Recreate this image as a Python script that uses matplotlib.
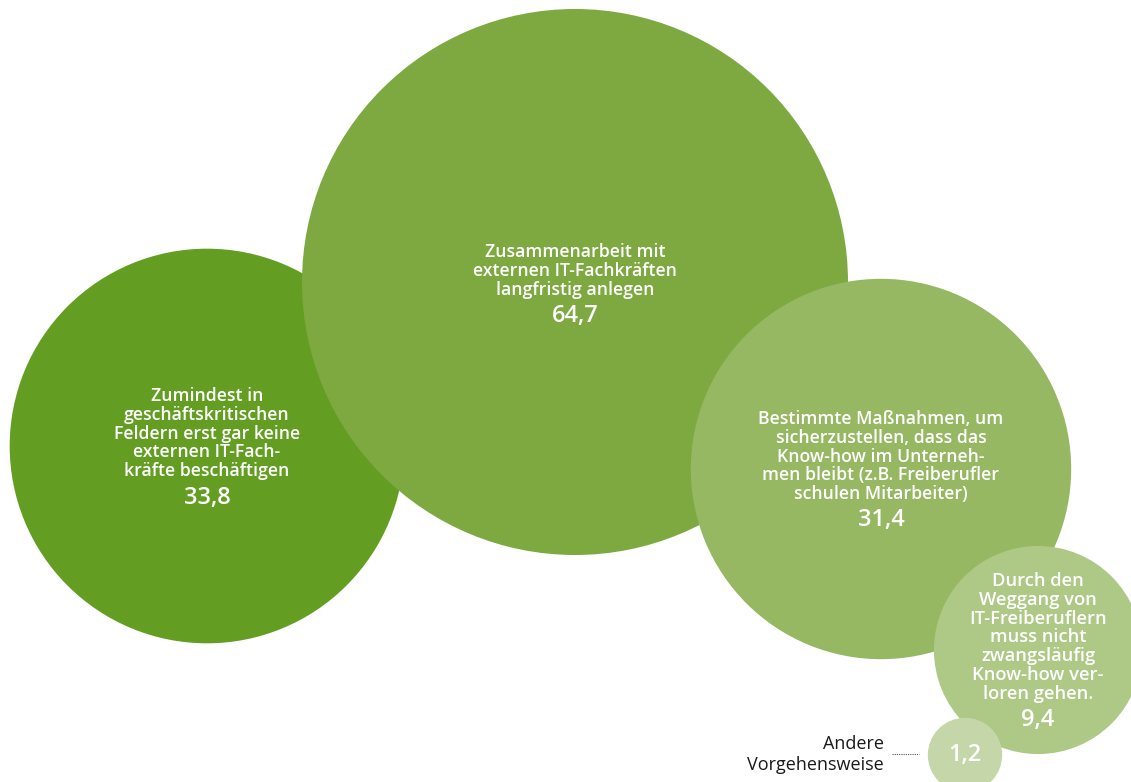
import numpy as np
import matplotlib.pyplot as plt
from matplotlib.patches import Circle

# DATA
labels = [
    'Zumindest in\ngeschäftskritischen\nFeldern erst gar keine\nexternen IT-Fach-\nkräfte beschäftigen',
    'Zusammenarbeit mit\nexternen IT-Fachkräften\nlangfristig anlegen',
    'Bestimmte Maßnahmen, um\nsicherzustellen, dass das\nKnow-how im Unterneh-\nmen bleibt (z.B. Freiberufler\nschulen Mitarbeiter)',
    'Durch den\nWeggang von\nIT-Freiberuflern\nmuss nicht\nzwangsläufig\nKnow-how ver-\nloren gehen.',
    'Andere\nVorgehensweise',
]
values = [33.8, 64.7, 31.4, 9.4, 1.2]
value_txt = ['33,8', '64,7', '31,4', '9,4', '1,2']

# LAYOUT (pixel coords, y down)
cx = [207, 575, 881, 1038, 965]
cy = [446, 282, 469, 650, 755]
colors = ['#639E23', '#7EA941', '#96B862', '#AEC886', '#C5D7A8']
rmax = 273.0

W, H = 1131, 782
fig = plt.figure(figsize=(W/100, H/100), dpi=100)
ax = fig.add_axes([0, 0, 1, 1])
ax.set_xlim(0, W)
ax.set_ylim(H, 0)
ax.set_aspect('equal')
ax.axis('off')

fnt = ['Open Sans', 'DejaVu Sans']
lab_fs = 12.7
num_fs = 17
line_h = 18.8

for i, v in enumerate(values):
    r = rmax*np.sqrt(v/values[1])
    ax.add_patch(Circle((cx[i], cy[i]), r, facecolor=colors[i], edgecolor='none', zorder=i+1))

# labels inside the four big circles
lab_top = [396, 252, 419, 581]
num_y = [498, 316, 520, 720]
lab_fs_i = [lab_fs, lab_fs, lab_fs, 13.2]
for i in range(4):
    for k, ln in enumerate(labels[i].split('\n')):
        ax.text(cx[i], lab_top[i] + k*line_h, ln, ha='center', va='center',
                color='white', fontsize=lab_fs_i[i], fontweight='semibold', family=fnt, zorder=10)
    ax.text(cx[i], num_y[i], value_txt[i], ha='center', va='center',
            color='white', fontsize=num_fs, fontweight='semibold', family=fnt, zorder=10)

# smallest circle: number inside, label outside
ax.text(cx[4], 755, value_txt[4], ha='center', va='center',
        color='white', fontsize=num_fs, fontweight='semibold', family=fnt, zorder=10)
for k, ln in enumerate(labels[4].split('\n')):
    ax.text(884, 744 + k*21, ln, ha='right', va='center',
            color='#1a1a1a', fontsize=13, family=fnt, zorder=10)
ax.plot([892, 919], [754, 754], color='#555555', lw=0.8, ls=(0, (1, 1)), zorder=10)

fig.savefig('out.png', dpi=100)
